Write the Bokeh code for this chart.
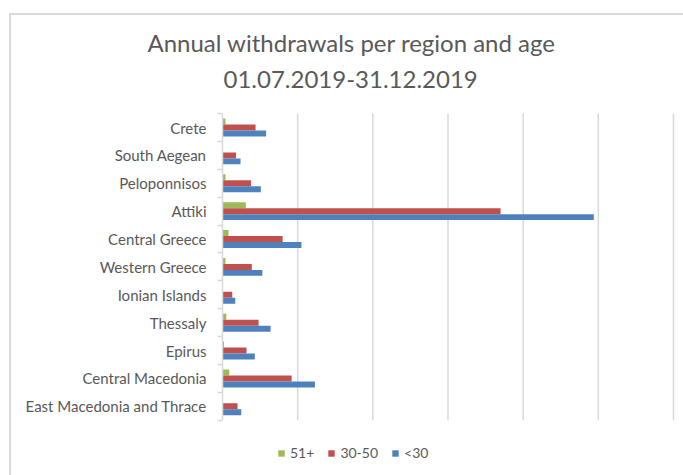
from bokeh.plotting import figure
from bokeh.models import (Range1d, FixedTicker, Legend, LegendItem, Title, ColumnDataSource)
from bokeh.transform import dodge
from bokeh.embed import file_html
from bokeh.resources import INLINE

regions = ["Crete", "South Aegean", "Peloponnisos", "Attiki", "Central Greece",
           "Western Greece", "Ionian Islands", "Thessaly", "Epirus",
           "Central Macedonia", "East Macedonia and Thrace"]
age_51_plus = [4, 0, 4, 31, 8, 4, 0, 5, 2, 9, 0]
age_30_50 = [44, 18, 38, 370, 80, 39, 13, 48, 32, 92, 20]
age_under_30 = [58, 24, 51, 494, 105, 53, 17, 64, 43, 123, 25]
series_names = ["51+", "30-50", "<30"]
series_colors = ["#9BBB59", "#C0504D", "#4F81BD"]
grid_ticks = [100, 200, 300, 400, 500, 600]
title_lines = ["Annual withdrawals per region and age", "01.07.2019-31.12.2019"]

n = len(regions)
ypos = [n - 1 - i for i in range(n)]          # Crete on top
src = ColumnDataSource(dict(y=ypos, g=age_51_plus, r=age_30_50, b=age_under_30))

W, H = 674, 462
y_lo, y_hi = -0.5, n - 0.5
p = figure(width=W, height=H, output_backend="svg", toolbar_location=None,
           x_range=Range1d(0, 616), y_range=Range1d(y_lo - 57 / 27.73, y_hi + 13 / 27.73),
           min_border_left=211, min_border_right=0, min_border_top=85, min_border_bottom=0)
p.margin = (13, 0, 0, 9)
p.styles = {"border-left": "2px solid #d9d9d9", "border-top": "2px solid #d9d9d9",
            "box-sizing": "border-box"}
p.outline_line_color = None
p.background_fill_color = "white"
p.border_fill_color = "white"
p.xgrid.grid_line_color = None
p.ygrid.grid_line_color = None
p.xaxis.visible = False

# vertical grid lines limited to the plot area
p.segment(x0=grid_ticks, x1=grid_ticks, y0=[y_lo] * len(grid_ticks), y1=[y_hi] * len(grid_ticks),
          line_color="#d9d9d9", line_width=1.5)

bw = 0.215
rend = []
for col, off, color in zip(["g", "r", "b"], [bw, 0, -bw], series_colors):
    rend.append(p.hbar(y=dodge("y", off), right=col, left=0,
                       height=bw, source=src, color=color, line_color=None))

ax = p.yaxis[0]
ax.bounds = (y_lo, y_hi)
ax.ticker = FixedTicker(ticks=ypos, minor_ticks=[y_lo + k for k in range(n + 1)])
ax.major_label_overrides = {yv: name for yv, name in zip(ypos, regions)}
ax.axis_line_color = "#d9d9d9"
ax.axis_line_width = 1.5
ax.major_tick_line_color = None
ax.major_tick_out = 0
ax.major_tick_in = 0
ax.minor_tick_line_color = "#d9d9d9"
ax.minor_tick_line_width = 1.5
ax.minor_tick_out = 5
ax.minor_tick_in = 0
ax.major_label_text_font = "Lato"
ax.major_label_text_font_size = "15px"
ax.major_label_text_color = "#595959"
ax.major_label_standoff = 11

legend = Legend(items=[LegendItem(label=nm, renderers=[r]) for nm, r in zip(series_names, rend)],
                orientation="horizontal", location=(55, 16),
                border_line_color=None, background_fill_alpha=0, padding=0, margin=0,
                spacing=13, label_standoff=5, glyph_width=8, glyph_height=8,
                label_text_font="Lato", label_text_font_size="14px",
                label_text_color="#595959", label_height=16)
p.add_layout(legend)

p.add_layout(Title(text=title_lines[1], align="left", offset=1, standoff=25,
                   text_font="Lato", text_font_size="24px", text_font_style="normal",
                   text_color="#595959"), "above")
p.add_layout(Title(text=title_lines[0], align="left", offset=-75, standoff=0,
                   text_font="Lato", text_font_size="24px", text_font_style="normal",
                   text_color="#595959"), "above")

open("out.html", "w").write(file_html(p, INLINE))
